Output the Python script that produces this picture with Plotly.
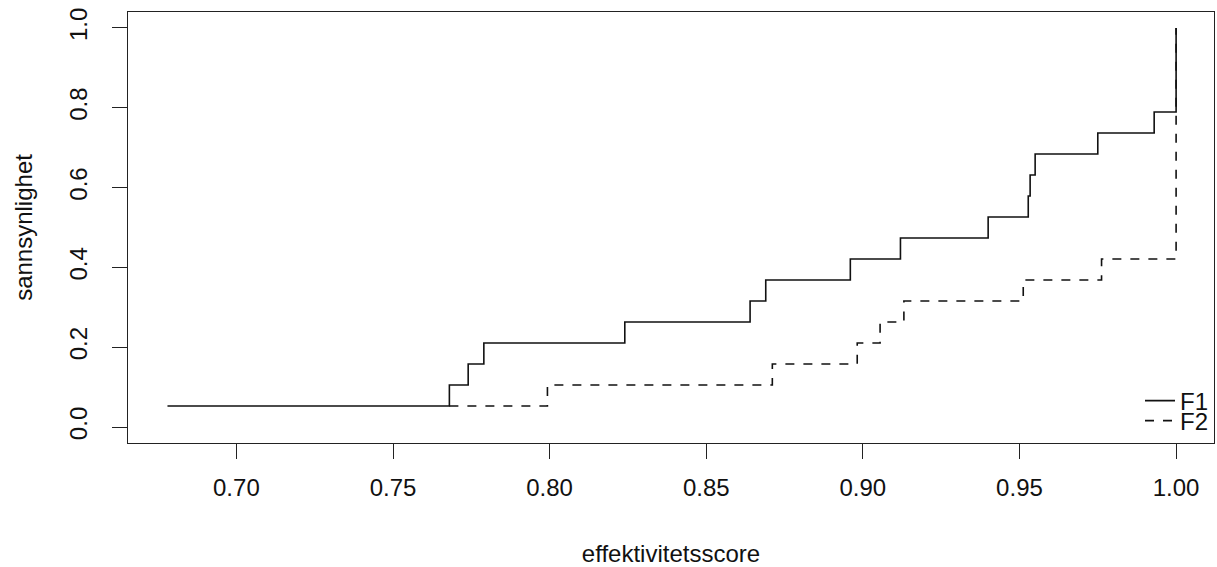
import numpy as np
import plotly.graph_objects as go

# Sorted efficiency scores (n = 19 each)
f1_scores = [0.678, 0.768, 0.774, 0.779, 0.824, 0.864, 0.869, 0.896, 0.912,
             0.940, 0.9528, 0.9534, 0.955, 0.975, 0.993, 1.0, 1.0, 1.0, 1.0]
f2_scores = [0.768, 0.7993, 0.8711, 0.8982, 0.9055, 0.9131, 0.9512, 0.9762,
             1.0, 1.0, 1.0, 1.0, 1.0, 1.0, 1.0, 1.0, 1.0, 1.0, 1.0]
series_names = ["F1", "F2"]
x_ticks = [0.70, 0.75, 0.80, 0.85, 0.90, 0.95, 1.00]
x_tick_labels = ["0.70", "0.75", "0.80", "0.85", "0.90", "0.95", "1.00"]
y_ticks = [0.0, 0.2, 0.4, 0.6, 0.8, 1.0]
y_tick_labels = ["0.0", "0.2", "0.4", "0.6", "0.8", "1.0"]


def ecdf(vals):
    v = np.sort(np.asarray(vals, dtype=float))
    return v, np.arange(1, len(v) + 1) / len(v)


FONT = "Liberation Sans, Arial, sans-serif"
TXT = "#111111"
fig = go.Figure()
for name, vals, dash, leg in [(series_names[0], f1_scores, "solid", "legend"),
                              (series_names[1], f2_scores, "dash", "legend2")]:
    x, y = ecdf(vals)
    fig.add_trace(go.Scatter(
        x=x, y=y, mode="lines", name=name, legend=leg,
        line=dict(shape="hv", color="#111111", width=1.6, dash=dash),
    ))

axis_common = dict(
    showline=True, linecolor="#222222", linewidth=1.2, mirror=True,
    ticks="outside", ticklen=15, tickwidth=1.2, tickcolor="#222222",
    showgrid=False, zeroline=False, automargin=False,
    tickfont=dict(family=FONT, size=24, color=TXT),
)

leg_common = dict(xanchor="right", yanchor="middle",
                  bgcolor="rgba(0,0,0,0)", borderwidth=0,
                  font=dict(family=FONT, size=24, color=TXT))

fig.update_layout(
    width=1217, height=567,
    margin=dict(l=128, r=3, t=12, b=124),
    paper_bgcolor="white", plot_bgcolor="white",
    font=dict(family=FONT, size=24, color=TXT),
    showlegend=True,
    legend=dict(x=1.0, y=0.0975, **leg_common),
    legend2=dict(x=1.0, y=0.051, **leg_common),
    xaxis=dict(range=[0.6654, 1.0121], tickvals=x_ticks, ticktext=x_tick_labels,
               ticklabelstandoff=8,
               title=dict(text="effektivitetsscore", standoff=46,
                          font=dict(family=FONT, size=24, color=TXT)),
               **axis_common),
    yaxis=dict(range=[-0.04, 1.04], tickvals=y_ticks, ticktext=y_tick_labels,
               tickangle=-90, ticklabelstandoff=15,
               title=dict(text="sannsynlighet", standoff=25,
                          font=dict(family=FONT, size=24, color=TXT)),
               **axis_common),
)

fig.write_html("out.html",
               config={"displayModeBar": False},
               post_script="document.body.style.margin='0';"
                           "document.body.style.overflow='hidden';")
